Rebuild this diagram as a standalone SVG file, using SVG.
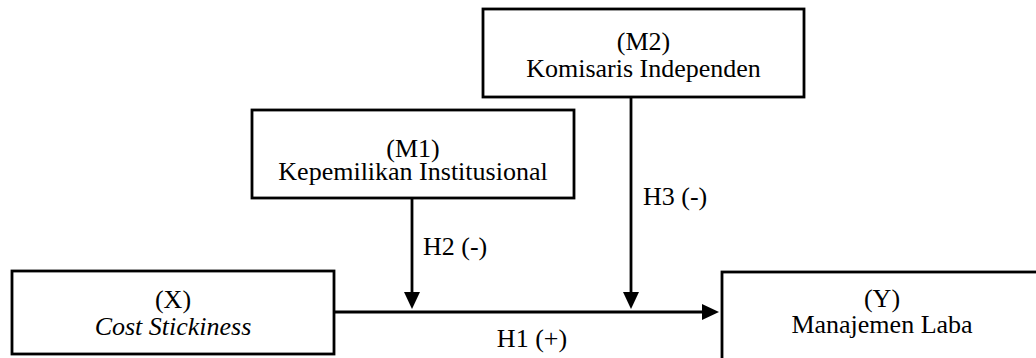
<svg xmlns="http://www.w3.org/2000/svg" width="1036" height="358" viewBox="0 0 1036 358">
<rect width="1036" height="358" fill="#fff"/>
<g id="connectors" stroke="#000" stroke-width="2.8" fill="none">
<line x1="334" y1="312" x2="704" y2="312"/>
<polygon points="702,304 719,312 702,320" fill="#000" stroke="none"/>
<line x1="412" y1="198" x2="412" y2="294"/>
<polygon points="404,292 412,309 420,292" fill="#000" stroke="none"/>
<line x1="631" y1="97" x2="631" y2="294"/>
<polygon points="623,292 631,309 639,292" fill="#000" stroke="none"/>
</g>
<g id="labels" font-family="Liberation Serif" font-size="26" fill="#000">
<text x="423" y="255">H2 (-)</text>
<text x="643" y="205">H3 (-)</text>
<text x="532" y="347" text-anchor="middle">H1 (+)</text>
</g>
<g id="nodeX" font-family="Liberation Serif" font-size="26" fill="#000" text-anchor="middle">
<rect x="12" y="271" width="322" height="83" fill="#fff" stroke="#000" stroke-width="2.8"/>
<text x="173" y="308">(X)</text>
<text x="173" y="335" font-style="italic">Cost Stickiness</text>
</g>
<g id="nodeM1" font-family="Liberation Serif" font-size="26" fill="#000" text-anchor="middle">
<rect x="252" y="110" width="322" height="88" fill="#fff" stroke="#000" stroke-width="2.8"/>
<text x="413" y="157">(M1)</text>
<text x="413" y="180">Kepemilikan Institusional</text>
</g>
<g id="nodeM2" font-family="Liberation Serif" font-size="26" fill="#000" text-anchor="middle">
<rect x="483" y="9" width="321" height="88" fill="#fff" stroke="#000" stroke-width="2.8"/>
<text x="643.5" y="50">(M2)</text>
<text x="643.5" y="77">Komisaris Independen</text>
</g>
<g id="nodeY" font-family="Liberation Serif" font-size="26" fill="#000" text-anchor="middle">
<rect x="722" y="272" width="330" height="100" fill="#fff" stroke="#000" stroke-width="2.8"/>
<text x="882" y="307">(Y)</text>
<text x="882" y="333">Manajemen Laba</text>
</g>
</svg>
